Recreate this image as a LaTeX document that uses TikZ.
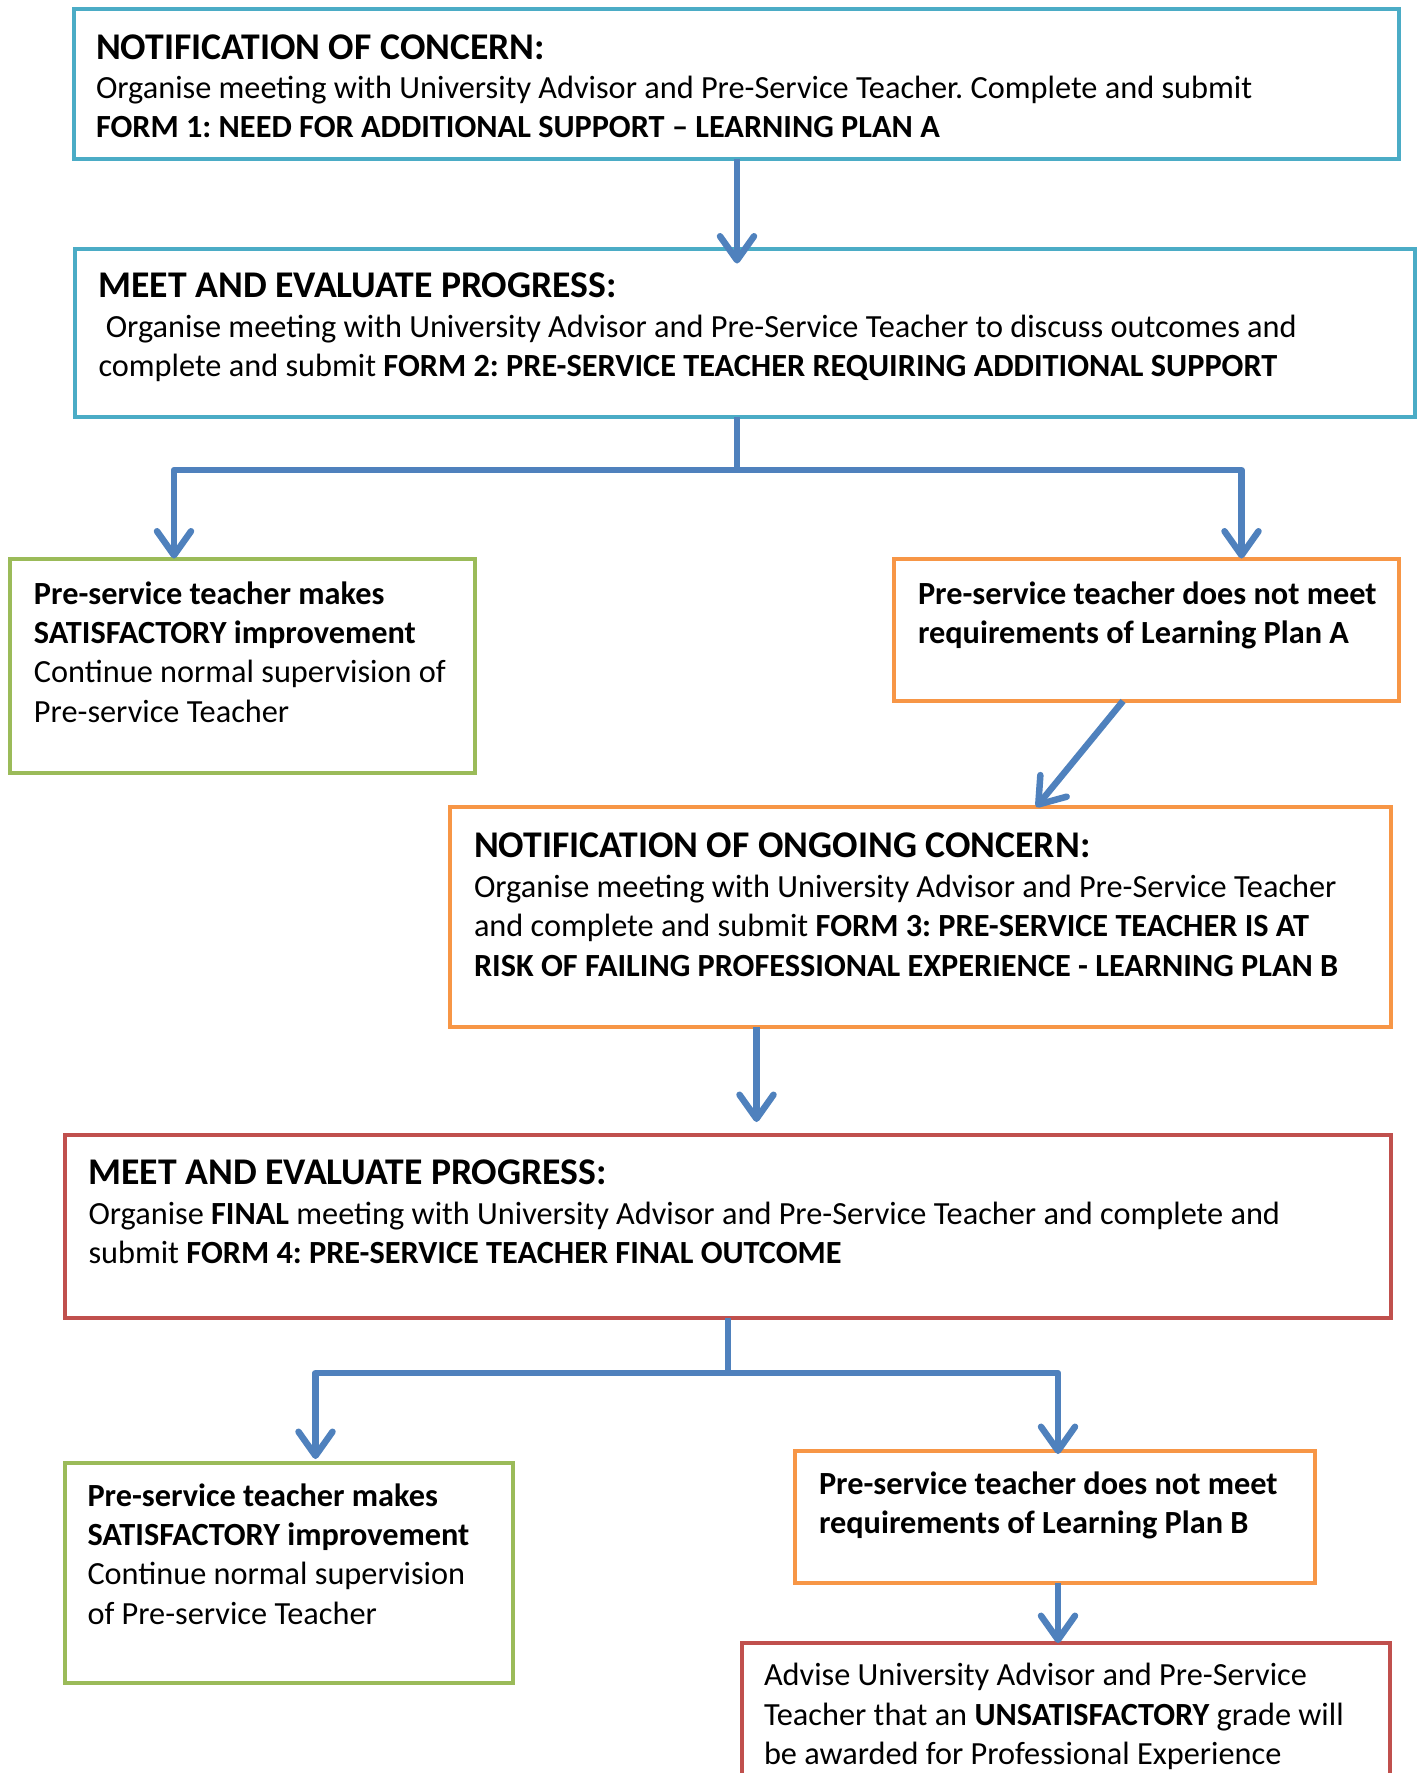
\documentclass[tikz,border=0pt]{standalone}
\usepackage{fontspec}
\setmainfont{Carlito}
\usetikzlibrary{arrows.meta,calc}
\definecolor{cteal}{HTML}{4BACC6}
\definecolor{cgreen}{HTML}{9BBB59}
\definecolor{corange}{HTML}{F79646}
\definecolor{cred}{HTML}{C0504D}
\definecolor{cblue}{HTML}{4F81BD}
\newcommand\mybody{\fontsize{32.3}{39.4}\selectfont\frenchspacing}
\newcommand\myttl{\fontsize{37.7}{39.4}\selectfont\bfseries}
\begin{document}
\begin{tikzpicture}[x=1pt,y=-1pt,
  box/.style={draw, line width=4pt, inner sep=0pt, outer sep=0pt, anchor=north west, fill=white},
  txt/.style={anchor=base west, inner sep=0pt, outer sep=0pt, align=left, font=\mybody},
  arr/.style={draw=cblue, line width=6.5pt, -{Straight Barb[length=24pt,width=34pt,round]}},
  conn/.style={draw=cblue, line width=6.5pt}]
\useasboundingbox (0,0) rectangle (1419,1773);
\fill[white] (0,0) rectangle (1419,1773);
\clip (0,0) rectangle (1419,1773);

% boxes
\node[box, draw=cteal, minimum width=1324.5pt, minimum height=149.5pt] (b1) at (74,9) {};
\node[box, draw=cteal, minimum width=1340pt, minimum height=168.5pt] (b2) at (74.5,248.5) {};
\node[box, draw=cgreen, minimum width=465pt, minimum height=214.5pt] (b3) at (10,558.5) {};
\node[box, draw=corange, minimum width=504.5pt, minimum height=142.5pt] (b4) at (894,558.5) {};
\node[box, draw=corange, minimum width=941pt, minimum height=220pt] (b5) at (450,807) {};
\node[box, draw=cred, minimum width=1326.5pt, minimum height=183pt] (b6) at (64.5,1135) {};
\node[box, draw=cgreen, minimum width=448.5pt, minimum height=219.5pt] (b7) at (64.5,1463) {};
\node[box, draw=corange, minimum width=520pt, minimum height=132pt] (b8) at (795,1451) {};
\node[box, draw=cred, minimum width=648pt, minimum height=200pt] (b9) at (742,1643) {};

% texts (anchored at the baseline of the last line)
\node[txt] (t1) at ($(b1.north west)+(22,128.8)$) {{\myttl NOTIFICATION OF CONCERN:}\\
Organise meeting with University Advisor and Pre-Service Teacher. Complete and submit\\
{\bfseries FORM 1: NEED FOR ADDITIONAL SUPPORT – LEARNING PLAN A}};
\node[txt] (t2) at ($(b2.north west)+(24,128)$) {{\myttl MEET AND EVALUATE PROGRESS:}\\
\ Organise meeting with University Advisor and Pre-Service Teacher to discuss outcomes and\\
complete and submit {\bfseries FORM 2: PRE-SERVICE TEACHER REQUIRING ADDITIONAL SUPPORT}};
\node[txt] (t3) at ($(b3.north west)+(24,163.7)$) {{\bfseries Pre-service teacher makes}\\
{\bfseries SATISFACTORY improvement}\\
Continue normal supervision of\\
Pre-service Teacher};
\node[txt] (t4) at ($(b4.north west)+(24,85)$) {{\bfseries Pre-service teacher does not meet}\\
{\bfseries requirements of Learning Plan A}};
\node[txt] (t5) at ($(b5.north west)+(24,169)$) {{\myttl NOTIFICATION OF ONGOING CONCERN:}\\
Organise meeting with University Advisor and Pre-Service Teacher\\
and complete and submit {\bfseries FORM 3: PRE-SERVICE TEACHER IS AT}\\
{\bfseries RISK OF FAILING PROFESSIONAL EXPERIENCE - LEARNING PLAN B}};
\node[txt] (t6) at ($(b6.north west)+(24,128.5)$) {{\myttl MEET AND EVALUATE PROGRESS:}\\
Organise {\bfseries FINAL} meeting with University Advisor and Pre-Service Teacher and complete and\\
submit {\bfseries FORM 4: PRE-SERVICE TEACHER FINAL OUTCOME}};
\node[txt] (t7) at ($(b7.north west)+(23,161.2)$) {{\bfseries Pre-service teacher makes}\\
{\bfseries SATISFACTORY improvement}\\
Continue normal supervision\\
of Pre-service Teacher};
\node[txt] (t8) at ($(b8.north west)+(24,82.5)$) {{\bfseries Pre-service teacher does not meet}\\
{\bfseries requirements of Learning Plan B}};
\node[txt] (t9) at ($(b9.north west)+(22,121.4)$) {Advise University Advisor and Pre-Service\\
Teacher that an {\bfseries UNSATISFACTORY} grade will\\
be awarded for Professional Experience};

% junction coordinates
\coordinate (s1) at (737,0);
\coordinate (j1) at (737,470);
\coordinate (j1l) at (174,470);
\coordinate (j1r) at (1241.5,470);
\coordinate (s2) at (756.5,0);
\coordinate (j2) at (728,1373);
\coordinate (j2l) at (315.5,1373);
\coordinate (j2r) at (1058,1373);

% connectors
\draw[arr, shorten >=-15pt] (b1.south -| s1) -- (b2.north -| s1);
\draw[conn] (b2.south -| j1) -- (j1);
\draw[arr, line join=round] (j1) -- (j1l) -- (j1l |- b3.north);
\draw[arr, line join=round] (j1) -- (j1r) -- (j1r |- b4.north);
\draw[arr] ($(b4.south west)!0.454!(b4.south east)$) -- ($(b5.north west)!0.623!(b5.north east)$);
\draw[arr, shorten >=13pt] (b5.south -| s2) -- (b6.north -| s2);
\draw[conn] (b6.south -| j2) -- (j2);
\draw[arr, line join=round] (j2) -- (j2l) -- ($(j2l |- b7.north)+(0,-4)$);
\draw[arr, line join=round] (j2) -- (j2r) -- ($(j2r |- b8.north)+(0,3)$);
\draw[arr] (b8.south -| j2r) -- (b9.north -| j2r);
\end{tikzpicture}
\end{document}
